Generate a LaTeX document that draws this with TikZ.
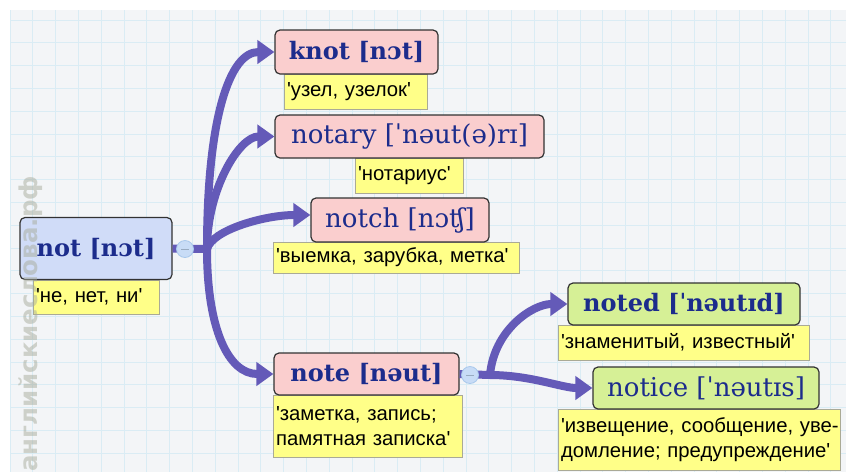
\documentclass[tikz,border=0pt]{standalone}
\usepackage{fontspec}
\setmainfont{Liberation Sans}
\newfontfamily\hwfont{DejaVu Serif}
\newfontfamily\wmfont{DejaVu Sans}
\usetikzlibrary{arrows.meta}
\newcommand\qq{\textquotesingle}
\definecolor{gridbg}{RGB}{243,245,247}
\definecolor{gridln}{RGB}{218,236,244}
\definecolor{conn}{RGB}{100,90,184}
\definecolor{hwblue}{RGB}{28,44,140}
\definecolor{fblue}{RGB}{208,220,248}
\definecolor{fpink}{RGB}{250,206,206}
\definecolor{fgreen}{RGB}{214,240,150}
\definecolor{fyellow}{RGB}{255,255,136}
\definecolor{ybord}{RGB}{170,170,150}
\definecolor{bbord}{RGB}{50,50,50}
\definecolor{cfill}{RGB}{200,220,246}
\definecolor{cbord}{RGB}{168,200,236}
\definecolor{wmark}{RGB}{168,172,156}
\tikzset{
  hwbox/.style={draw=bbord, line width=1.2pt, rounded corners=5pt, text=hwblue, inner sep=0pt, align=center},
  hwbold/.style={hwbox, font=\hwfont\bfseries\fontsize{24}{26}\selectfont},
  hwreg/.style={hwbox, font=\hwfont\fontsize{26}{28}\selectfont},
  trbox/.style={draw=ybord, line width=0.8pt, fill=fyellow, inner xsep=3pt, inner ysep=0pt, align=left, font=\fontsize{20.3}{25}\selectfont},
  conn/.style={draw=conn, line width=8pt},
  arr/.style={conn, -{Triangle[length=17pt,width=23pt]}},
  collapse/.style={circle, minimum size=17pt, inner sep=0pt, fill=cfill, draw=cbord, line width=0.8pt},
  minus/.style={draw=cbord!60!gray, line width=1pt}
}
\begin{document}
\begin{tikzpicture}[x=1pt,y=-1pt]
\useasboundingbox (0,0) rectangle (846,475);
\fill[white] (0,0) rectangle (846,475);
\fill[gridbg] (10,10) rectangle (846,472);
\foreach \i in {0,...,36} \draw[gridln, line width=0.8pt] ({10+22.8*\i},10) -- ({10+22.8*\i},472);
\foreach \i in {0,...,19} \draw[gridln, line width=0.8pt] (10,{20+22.8*\i}) -- (846,{20+22.8*\i});

% translations
\node[trbox, text width=120pt, minimum height=34pt] (tnot) at (96,297) {\mbox{\qq не, нет, ни\qq}};
\node[trbox, text width=137pt, minimum height=35pt] (tknot) at (355.5,91.5) {\mbox{\qq узел, узелок\qq}};
\node[trbox, text width=102pt, minimum height=35pt] (tnotary) at (409,175.5) {\mbox{\qq нотариус\qq}};
\node[trbox, text width=240pt, minimum height=31pt] (tnotch) at (396,257.5) {\mbox{\qq выемка, зарубка, метка\qq}};
\node[trbox, text width=183pt, minimum height=62pt] (tnote) at (367.5,426) {\mbox{\qq заметка, запись;}\\\mbox{памятная записка\qq}};
\node[trbox, text width=245pt, minimum height=35pt] (tnoted) at (683.5,342.5) {\mbox{\qq знаменитый, известный\qq}};
\node[trbox, text width=276pt, minimum height=61pt] (tnotice) at (699,439.5) {\mbox{\qq извещение, сообщение, уве-}\\\mbox{домление; предупреждение\qq}};

% headwords
\node[hwbold, fill=fblue, minimum width=152pt, minimum height=62pt] (not) at (96,248.5) {not [nɔt]};
\node[hwbold, fill=fpink, minimum width=163pt, minimum height=44pt] (knot) at (356.5,52) {knot [nɔt]};
\node[hwreg, fill=fpink, minimum width=269pt, minimum height=43pt] (notary) at (409.5,136.5) {notary [ˈnəut(ə)rɪ]};
\node[hwreg, fill=fpink, minimum width=178pt, minimum height=44pt] (notch) at (400,220) {notch [nɔʧ]};
\node[hwbold, fill=fpink, minimum width=185pt, minimum height=42pt] (note) at (366.5,374) {note [nəut]};
\node[hwbold, fill=fgreen, minimum width=232pt, minimum height=42pt] (noted) at (684,304) {noted [ˈnəutɪd]};
\node[hwreg, fill=fgreen, minimum width=226pt, minimum height=42pt] (notice) at (706,388) {notice [ˈnəutɪs]};

% junctions
\coordinate (j1) at (207,249);
\coordinate (j2) at (490,375);

% connectors
\draw[conn] (not.east) -- (j1);
\draw[arr] (j1) to[out=90,in=180,out distance=130pt,in distance=45pt] (knot.west);
\draw[arr] (j1) to[out=90,in=180,out distance=60pt,in distance=35pt] (notary.west);
\draw[arr] (j1) to[out=75,in=180,out distance=20pt,in distance=45pt] ([yshift=5pt]notch.west);
\draw[arr] (j1) to[out=-90,in=180,out distance=80pt,in distance=45pt] (note.west);
\draw[conn] (note.east) -- (j2);
\draw[arr] (j2) to[out=85,in=180,out distance=45pt,in distance=35pt] (noted.west);
\draw[arr] (j2) to[out=0,in=180,out distance=40pt,in distance=30pt] (notice.west);

% collapse buttons
\node[collapse] (c1) at (185,249) {};
\node[collapse] (c2) at (470,375) {};
\draw[minus] ([xshift=-4pt]c1.center) -- ([xshift=4pt]c1.center);
\draw[minus] ([xshift=-4pt]c2.center) -- ([xshift=4pt]c2.center);

% watermark (on top, translucent)
\node[rotate=90, text=wmark, text opacity=0.5, font=\wmfont\bfseries\fontsize{24.5}{24.5}\selectfont, inner sep=0pt] (wm) at (31,324) {английскиеслова.рф};
\end{tikzpicture}
\end{document}
